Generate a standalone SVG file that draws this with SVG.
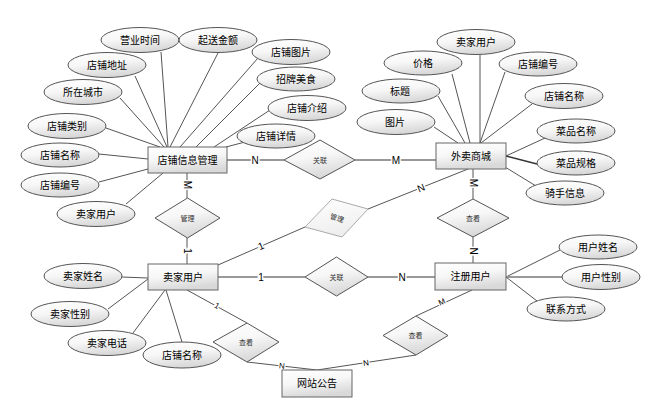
<svg xmlns="http://www.w3.org/2000/svg" width="650" height="410" viewBox="0 0 650 410">
<defs>
<linearGradient id="g" x1="0" y1="0" x2="0.3" y2="1">
<stop offset="0" stop-color="#ffffff"/>
<stop offset="0.5" stop-color="#f7f7f7"/>
<stop offset="1" stop-color="#d9d9d9"/>
</linearGradient>
<linearGradient id="gl" x1="0" y1="0" x2="0.3" y2="1">
<stop offset="0" stop-color="#ffffff"/>
<stop offset="1" stop-color="#eeeeee"/>
</linearGradient>
</defs>
<style>
.e{fill:url(#g);stroke:#555;stroke-width:1}
.r{fill:url(#g);stroke:#666;stroke-width:1}
.d{fill:url(#g);stroke:#555;stroke-width:1}
.t{font-family:"Liberation Sans","Noto Sans CJK SC",sans-serif;font-size:10px;fill:#000;text-anchor:middle;dominant-baseline:central}
.ts{font-family:"Liberation Sans","Noto Sans CJK SC",sans-serif;font-size:7px;fill:#333;text-anchor:middle;dominant-baseline:central}
.l{stroke:#555;stroke-width:1;fill:none}
.h{stroke:#999;stroke-width:2;fill:none}
.c{font-family:"Liberation Sans",sans-serif;font-size:10px;fill:#000;text-anchor:middle;dominant-baseline:central;stroke:#fff;stroke-width:3;paint-order:stroke}
.cs{font-family:"Liberation Sans",sans-serif;font-size:8px;fill:#000;text-anchor:middle;dominant-baseline:central;stroke:#fff;stroke-width:2.5;paint-order:stroke}
</style>
<rect width="650" height="410" fill="#fff"/>
<g id="connectors">
<line class="l" x1="161" y1="52" x2="168" y2="147"/>
<line class="l" x1="218" y1="53" x2="170" y2="147"/>
<line class="l" x1="135" y1="76" x2="167" y2="147"/>
<line class="l" x1="120" y1="98" x2="164" y2="147"/>
<line class="l" x1="106" y1="128" x2="160" y2="147"/>
<line class="l" x1="258" y1="58" x2="180" y2="147"/>
<line class="l" x1="260" y1="83" x2="196" y2="147"/>
<line class="l" x1="270" y1="110" x2="214" y2="147"/>
<line class="l" x1="245" y1="142" x2="226" y2="147"/>
<line class="l" x1="99" y1="154" x2="148" y2="159"/>
<line class="l" x1="99" y1="182" x2="148" y2="169"/>
<line class="l" x1="126" y1="204" x2="163" y2="173"/>
<line class="l" x1="480" y1="55" x2="480" y2="143"/>
<line class="l" x1="452" y1="74" x2="470" y2="143"/>
<line class="l" x1="438" y1="96" x2="465" y2="143"/>
<line class="l" x1="434" y1="127" x2="458" y2="143"/>
<line class="l" x1="505" y1="72" x2="480" y2="143"/>
<line class="l" x1="532" y1="104" x2="481" y2="143"/>
<line class="l" x1="545" y1="138" x2="506" y2="156"/>
<line stroke="#333" stroke-width="1.5" x1="537" y1="164" x2="506" y2="156"/>
<line class="l" x1="536" y1="186" x2="505" y2="167"/>
<line class="l" x1="122" y1="277" x2="148" y2="278"/>
<line class="l" x1="108" y1="309" x2="148" y2="279"/>
<line class="l" x1="133" y1="333" x2="165" y2="290"/>
<line class="l" x1="182" y1="342" x2="166" y2="290"/>
<line class="l" x1="506" y1="277" x2="560" y2="250"/>
<line class="h" x1="506" y1="277" x2="562" y2="277"/>
<line class="l" x1="506" y1="277" x2="537" y2="301"/>
<line class="h" x1="227" y1="160" x2="284" y2="160"/>
<line class="h" x1="355" y1="160" x2="436" y2="160"/>
<line class="l" x1="187" y1="173" x2="187" y2="198"/>
<line class="l" x1="187" y1="238" x2="187" y2="264"/>
<line class="l" x1="218" y1="265" x2="305" y2="227"/>
<line class="l" x1="368" y1="209" x2="468" y2="169"/>
<line class="l" x1="473" y1="169" x2="473" y2="199"/>
<line class="l" x1="473" y1="237" x2="473" y2="263"/>
<line class="h" x1="218" y1="277" x2="305" y2="277"/>
<line class="h" x1="368" y1="277" x2="435" y2="277"/>
<line class="l" x1="187" y1="290" x2="247" y2="323"/>
<line class="l" x1="247" y1="362" x2="317" y2="370"/>
<line class="l" x1="317" y1="370" x2="416" y2="355"/>
<line class="l" x1="416" y1="316" x2="472" y2="290"/>
<text class="c" x="255" y="160">N</text>
<text class="c" x="396" y="160">M</text>
<text class="c" transform="translate(187,185) rotate(90)">M</text>
<text class="c" transform="translate(187,251) rotate(90)">1</text>
<text class="c" transform="translate(261,246) rotate(-23)">1</text>
<text class="c" transform="translate(421,188) rotate(-22)">N</text>
<text class="c" transform="translate(473,183) rotate(90)">M</text>
<text class="c" transform="translate(473,251) rotate(90)">N</text>
<text class="c" x="261" y="277">1</text>
<text class="c" x="402" y="277">N</text>
<text class="cs" transform="translate(217,306) rotate(29)">1</text>
<text class="cs" transform="translate(282,366) rotate(6)">N</text>
<text class="cs" transform="translate(366,363) rotate(-8)">N</text>
<text class="cs" transform="translate(442,302) rotate(-25)">M</text>
</g>
<g id="e-shop-mgmt"><rect class="r" x="148" y="147" width="79" height="26"/><text class="t" x="187.5" y="160">店铺信息管理</text></g>
<g id="e-mall"><rect class="r" x="436" y="143" width="70" height="26"/><text class="t" x="471" y="156">外卖商城</text></g>
<g id="e-seller"><rect class="r" x="148" y="264" width="70" height="26"/><text class="t" x="183" y="277">卖家用户</text></g>
<g id="e-user"><rect class="r" x="435" y="263" width="71" height="27"/><text class="t" x="470.5" y="276.5">注册用户</text></g>
<g id="e-notice"><rect class="r" x="282" y="370" width="70" height="27"/><text class="t" x="317" y="383.5">网站公告</text></g>
<g id="r-link1"><polygon class="d" points="284,160 320,140 355,160 320,179"/><text class="ts" x="320" y="160">关联</text></g>
<g id="r-manage1"><polygon class="d" points="155,218 187.5,198 220,218 187.5,238"/><text class="ts" x="187.5" y="218">管理</text></g>
<g id="r-manage2"><polygon fill="url(#gl)" stroke="#aaa" stroke-width="1" points="305,227 332,199 368,209 342,237"/><text class="ts" transform="translate(337,218) rotate(18)">管理</text></g>
<g id="r-link2"><polygon class="d" points="305,277 336.5,257 368,277 336.5,296"/><text class="ts" x="336.5" y="277">关联</text></g>
<g id="r-view1"><polygon class="d" points="437,218 473,199 509,218 473,237"/><text class="ts" x="473" y="218">查看</text></g>
<g id="r-view2"><polygon class="d" points="213,342 247,323 279,342 247,362"/><text class="ts" x="246" y="342">查看</text></g>
<g id="r-view3"><polygon class="d" points="383,335.5 416,316 448,335.5 416,355"/><text class="ts" x="415.5" y="335.5">查看</text></g>
<g id="a-yingye"><ellipse class="e" cx="140" cy="40" rx="39" ry="12.5"/><text class="t" x="140" y="40">营业时间</text></g>
<g id="a-qisong"><ellipse class="e" cx="218" cy="40" rx="39" ry="12.5"/><text class="t" x="218" y="40">起送金额</text></g>
<g id="a-dizhi"><ellipse class="e" cx="107" cy="65" rx="39" ry="12.5"/><text class="t" x="107" y="65">店铺地址</text></g>
<g id="a-chengshi"><ellipse class="e" cx="83" cy="92" rx="39" ry="12.5"/><text class="t" x="83" y="92">所在城市</text></g>
<g id="a-leibie"><ellipse class="e" cx="67" cy="126" rx="39" ry="12.5"/><text class="t" x="67" y="126">店铺类别</text></g>
<g id="a-mingcheng1"><ellipse class="e" cx="60" cy="155" rx="39" ry="12"/><text class="t" x="60" y="155">店铺名称</text></g>
<g id="a-bianhao1"><ellipse class="e" cx="60" cy="185" rx="39" ry="12"/><text class="t" x="60" y="185">店铺编号</text></g>
<g id="a-seller1"><ellipse class="e" cx="96" cy="214" rx="39" ry="12.5"/><text class="t" x="96" y="214">卖家用户</text></g>
<g id="a-tupian1"><ellipse class="e" cx="291" cy="52" rx="39" ry="12.5"/><text class="t" x="291" y="52">店铺图片</text></g>
<g id="a-zhaopai"><ellipse class="e" cx="296" cy="79" rx="39" ry="12"/><text class="t" x="296" y="79">招牌美食</text></g>
<g id="a-jieshao"><ellipse class="e" cx="307" cy="108" rx="39" ry="12.5"/><text class="t" x="307" y="108">店铺介绍</text></g>
<g id="a-xiangqing"><ellipse class="e" cx="276" cy="136" rx="39" ry="12"/><text class="t" x="276" y="136">店铺详情</text></g>
<g id="a-seller2"><ellipse class="e" cx="476" cy="42" rx="39" ry="12.5"/><text class="t" x="476" y="42">卖家用户</text></g>
<g id="a-jiage"><ellipse class="e" cx="423" cy="63" rx="39" ry="12"/><text class="t" x="423" y="63">价格</text></g>
<g id="a-bianhao2"><ellipse class="e" cx="538" cy="64" rx="39" ry="12"/><text class="t" x="538" y="64">店铺编号</text></g>
<g id="a-biaoti"><ellipse class="e" cx="401" cy="91" rx="39" ry="12"/><text class="t" x="400" y="91">标题</text></g>
<g id="a-tupian2"><ellipse class="e" cx="396" cy="122" rx="39" ry="12.5"/><text class="t" x="395" y="122">图片</text></g>
<g id="a-mingcheng2"><ellipse class="e" cx="564" cy="96" rx="39" ry="12.5"/><text class="t" x="564" y="96">店铺名称</text></g>
<g id="a-caiming"><ellipse class="e" cx="576" cy="131" rx="39" ry="12"/><text class="t" x="576" y="131">菜品名称</text></g>
<g id="a-guige"><ellipse class="e" cx="576" cy="163" rx="39" ry="12"/><text class="t" x="576" y="163">菜品规格</text></g>
<g id="a-qishou"><ellipse class="e" cx="565" cy="193" rx="39" ry="12"/><text class="t" x="565" y="193">骑手信息</text></g>
<g id="a-xingming"><ellipse class="e" cx="83" cy="276" rx="39" ry="12.5"/><text class="t" x="83" y="276">卖家姓名</text></g>
<g id="a-xingbie"><ellipse class="e" cx="70" cy="314" rx="39" ry="12.5"/><text class="t" x="70" y="314">卖家性别</text></g>
<g id="a-dianhua"><ellipse class="e" cx="107" cy="343" rx="39" ry="12.5"/><text class="t" x="107" y="343">卖家电话</text></g>
<g id="a-mingcheng3"><ellipse class="e" cx="182" cy="355" rx="39" ry="13"/><text class="t" x="182" y="355">店铺名称</text></g>
<g id="a-yhxingming"><ellipse class="e" cx="598" cy="247" rx="39" ry="12"/><text class="t" x="598" y="247">用户姓名</text></g>
<g id="a-yhxingbie"><ellipse class="e" cx="601" cy="277" rx="39" ry="12.5"/><text class="t" x="601" y="277">用户性别</text></g>
<g id="a-lianxi"><ellipse class="e" cx="566" cy="309" rx="39" ry="12"/><text class="t" x="566" y="309">联系方式</text></g>
</svg>
